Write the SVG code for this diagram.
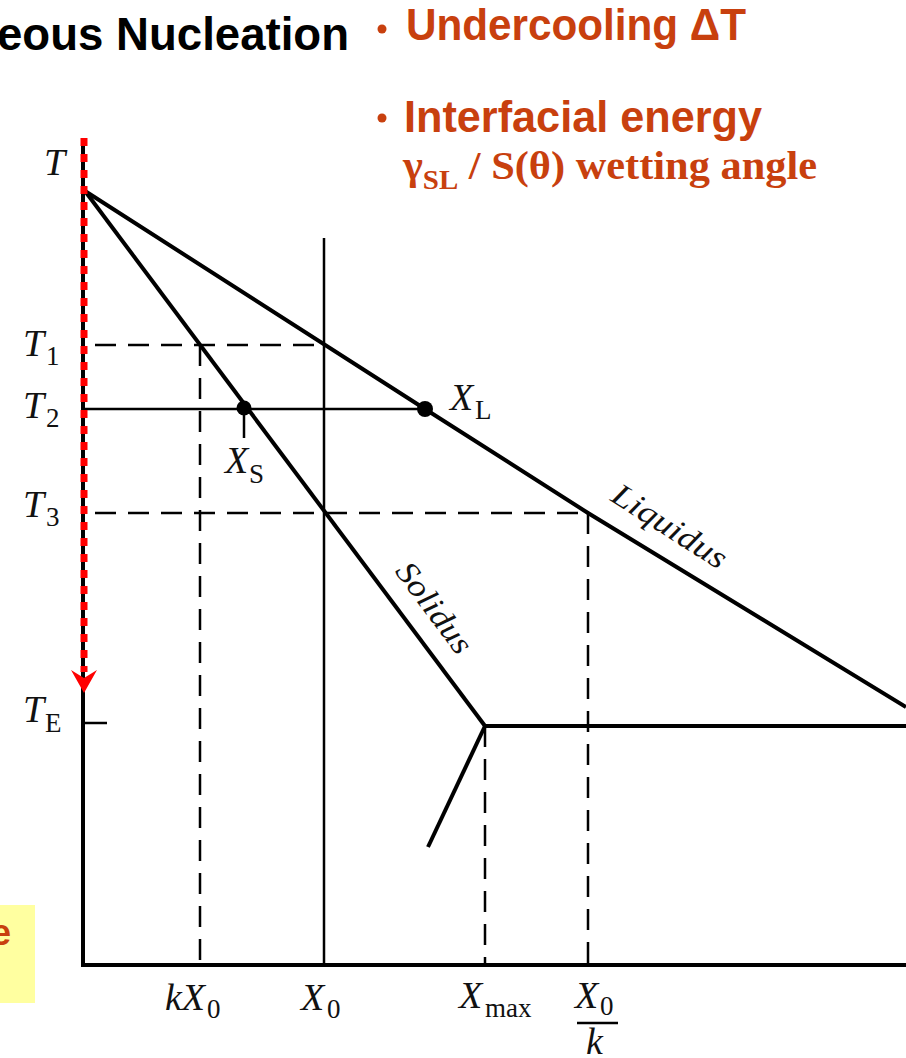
<svg xmlns="http://www.w3.org/2000/svg" width="906" height="1058" viewBox="0 0 906 1058">
<style>
.thick{stroke:#000;stroke-width:4;fill:none;stroke-linecap:butt}
.thin{stroke:#000;stroke-width:2.5;fill:none}
.dash{stroke:#000;stroke-width:2.5;fill:none;stroke-dasharray:21 12}
.lbl{font-family:"Liberation Serif",serif;font-style:italic;font-size:38px;fill:#111}
.sub{font-family:"Liberation Serif",serif;font-style:normal;font-size:27px;fill:#111}
.head{font-family:"Liberation Sans",Arial,sans-serif;font-weight:bold;fill:#C8400E}
.curve{font-family:"Liberation Serif",serif;font-style:italic;font-size:32px;fill:#111}
</style>
<rect width="906" height="1058" fill="#fff"/>

<g id="title">
<text x="-3" y="50" font-family="'Liberation Sans',Arial,sans-serif" font-weight="bold" font-size="47" fill="#000" textLength="352" lengthAdjust="spacingAndGlyphs">eous Nucleation</text>
</g>
<g id="bullet-undercooling">
<circle cx="382" cy="29" r="4.5" fill="#C8400E"/>
<text class="head" x="406" y="40" font-size="44" textLength="340" lengthAdjust="spacingAndGlyphs">Undercooling ΔT</text>
</g>
<g id="bullet-interfacial">
<circle cx="382" cy="118" r="4.5" fill="#C8400E"/>
<text class="head" x="404" y="132" font-size="44" textLength="358" lengthAdjust="spacingAndGlyphs">Interfacial energy</text>
<text x="403" y="179" font-family="'Liberation Serif','Times New Roman',serif" font-weight="bold" font-size="41" fill="#C8400E" textLength="414" lengthAdjust="spacingAndGlyphs">γ<tspan font-size="28" dy="10">SL</tspan><tspan dy="-10"> / S(θ) wetting angle</tspan></text>
</g>
<g id="note-box">
<rect x="0" y="905" width="35" height="98" fill="#FFFFA0"/>
<text x="-9" y="945" font-family="'Liberation Sans',Arial,sans-serif" font-weight="bold" font-size="36" fill="#C8400E">e</text>
</g>

<g id="axes">
<line class="thick" x1="83" y1="140" x2="83" y2="967"/>
<line class="thick" x1="81" y1="965" x2="906" y2="965"/>
<line class="thin" x1="83" y1="723" x2="107" y2="723"/>
</g>

<g id="guides">
<line class="dash" x1="95" y1="345" x2="324" y2="345"/>
<line class="dash" x1="95" y1="513" x2="588" y2="513"/>
<line class="dash" x1="200" y1="345" x2="200" y2="965"/>
<line class="dash" x1="485" y1="726" x2="485" y2="965"/>
<line class="dash" x1="588" y1="513" x2="588" y2="965"/>
<line class="thin" x1="324" y1="238" x2="324" y2="965"/>
<line class="thin" x1="83" y1="409" x2="425" y2="409"/>
<line class="thin" x1="244" y1="408" x2="244" y2="438"/>
</g>

<g id="curves">
<polyline id="liquidus" class="thick" points="85,191 425,409 588,513 906,707"/>
<polyline id="solidus" class="thick" points="85,191 485,726"/>
<line id="eutectic" class="thick" x1="485" y1="726" x2="906" y2="726"/>
<line id="solvus" class="thick" x1="485" y1="726" x2="428" y2="847"/>
</g>

<g id="points">
<circle cx="244" cy="408" r="7.5" fill="#000"/>
<circle cx="425" cy="409" r="8" fill="#000"/>
</g>

<g id="connectors">
<line x1="84" y1="138" x2="84" y2="672" stroke="#ff0000" stroke-width="7" stroke-dasharray="8 8"/>
<path d="M71,670 L84,693 L97,670 L84,678 Z" fill="#ff0000"/>
</g>

<g id="labels">
<text class="lbl" x="44" y="175">T</text>
<text class="lbl" x="23" y="356">T</text><text class="sub" x="46" y="365">1</text>
<text class="lbl" x="23" y="418">T</text><text class="sub" x="46" y="427">2</text>
<text class="lbl" x="23" y="517">T</text><text class="sub" x="46" y="526">3</text>
<text class="lbl" x="23" y="722">T</text><text class="sub" x="45" y="732">E</text>
<text class="lbl" x="225" y="473">X</text><text class="sub" x="249" y="483">S</text>
<text class="lbl" x="450" y="410">X</text><text class="sub" x="475" y="419">L</text>
<text class="lbl" x="165" y="1010">kX</text><text class="sub" x="207" y="1018">0</text>
<text class="lbl" x="301" y="1010">X</text><text class="sub" x="327" y="1018">0</text>
<text class="lbl" x="459" y="1008">X</text><text class="sub" x="485" y="1017">max</text>
<text class="lbl" x="575" y="1008">X</text><text class="sub" x="600" y="1015">0</text>
<line x1="577" y1="1023" x2="618" y2="1023" stroke="#000" stroke-width="2.5"/>
<text class="lbl" x="586" y="1054">k</text>
<text class="curve" transform="translate(664,535) rotate(32.5)" text-anchor="middle" textLength="130" lengthAdjust="spacingAndGlyphs">Liquidus</text>
<text class="curve" transform="translate(426,614) rotate(53.2)" text-anchor="middle" textLength="106" lengthAdjust="spacingAndGlyphs">Solidus</text>
</g>
</svg>
